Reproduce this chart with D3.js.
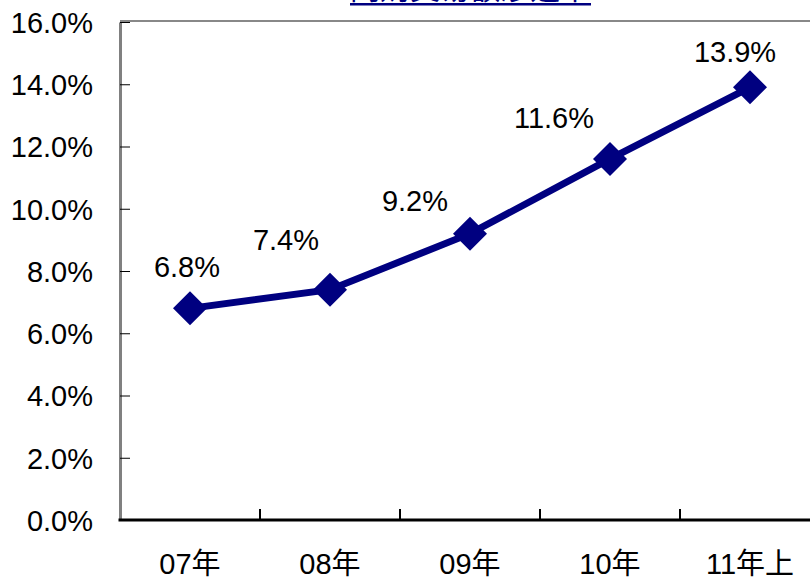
<!DOCTYPE html>
<html><head><meta charset="utf-8">
<script src="https://cdn.jsdelivr.net/npm/d3@7/dist/d3.min.js"></script>
<style>html,body{margin:0;padding:0;background:#fff;overflow:hidden}</style>
</head><body>
<svg id="c" width="810" height="579"></svg>
<script>
const categories = ["07年", "08年", "09年", "10年", "11年上"];
const values = [6.8, 7.4, 9.2, 11.6, 13.9];
const yTicks = [0, 2, 4, 6, 8, 10, 12, 14, 16];
const title = "网购交易额渗透率";
// label nudges relative to each point (layout only)
const labelNudge = [[-3, -31], [-44, -40], [-55, -23], [-56, -31], [-15, -25]];

(function () {
const svg = d3.select("#c");
const font = "'Liberation Sans', Arial, 'Noto Sans CJK SC', sans-serif";
const pLeft = 120, pRight = 820, pTop = 22, pBottom = 520;

const x = d3.scaleBand().domain(categories).range([pLeft, pRight]).padding(0);
const y = d3.scaleLinear().domain([0, 16]).range([pBottom, pTop]);

// plot area top border
svg.append("line").attr("x1", pLeft).attr("x2", 810).attr("y1", 21).attr("y2", 21)
  .attr("stroke", "#888").attr("stroke-width", 2);

// title (cut off at the top)
svg.append("text").attr("x", 470).attr("y", -1).attr("text-anchor", "middle")
  .attr("font-family", "'Noto Sans CJK SC', sans-serif").attr("font-size", 30)
  .attr("fill", "#000080").text(title);
svg.append("rect").attr("x", 350).attr("y", 3).attr("width", 241).attr("height", 2.5).attr("fill", "#000080");

// y axis
const yAxis = d3.axisLeft(y).tickValues(yTicks).tickSize(0).tickPadding(27)
  .tickFormat(d => d.toFixed(1) + "%");
const gy = svg.append("g").attr("transform", `translate(${pLeft},0)`).call(yAxis);
gy.select(".domain").attr("stroke", "#808080").attr("stroke-width", 3);
gy.selectAll(".tick line").remove();
gy.selectAll(".tick").append("line").attr("x1", 0).attr("x2", 10).attr("stroke", "#000").attr("stroke-width", 1);
gy.selectAll(".tick text").attr("font-family", font).attr("font-size", 29).attr("fill", "#000").attr("dy", "0.36em");

// x axis
const gx = svg.append("g").attr("transform", `translate(0,${pBottom})`);
gx.append("line").attr("x1", pLeft - 1.5).attr("x2", 810).attr("stroke", "#000").attr("stroke-width", 3);
const bounds = categories.map(c => x(c)).concat([x(categories[categories.length - 1]) + x.bandwidth()]);
gx.selectAll("line.tk").data(bounds.slice(1)).join("line").attr("class", "tk")
  .attr("x1", d => d).attr("x2", d => d).attr("y1", 0).attr("y2", -11)
  .attr("stroke", "#000").attr("stroke-width", 2);
gx.selectAll("text").data(categories).join("text")
  .attr("x", d => x(d) + x.bandwidth() / 2).attr("y", 54).attr("text-anchor", "middle")
  .attr("font-family", font).attr("font-size", 29).attr("fill", "#000").text(d => d);

// line
const cx = (d, i) => x(categories[i]) + x.bandwidth() / 2;
const line = d3.line().x((d, i) => cx(d, i)).y(d => y(d));
svg.append("path").datum(values).attr("d", line).attr("fill", "none")
  .attr("stroke", "#000080").attr("stroke-width", 7);

// diamond markers
const r = 17;
svg.selectAll("path.mk").data(values).join("path").attr("class", "mk")
  .attr("transform", (d, i) => `translate(${cx(d, i)},${y(d)})`)
  .attr("d", `M0,${-r}L${r},0L0,${r}L${-r},0Z`).attr("fill", "#000080");

// labels
svg.selectAll("text.lb").data(values).join("text").attr("class", "lb")
  .attr("x", (d, i) => cx(d, i) + labelNudge[i][0])
  .attr("y", (d, i) => y(d) + labelNudge[i][1])
  .attr("text-anchor", "middle").attr("font-family", font).attr("font-size", 29)
  .attr("fill", "#000").text(d => d.toFixed(1) + "%");
})();
</script>
</body></html>
